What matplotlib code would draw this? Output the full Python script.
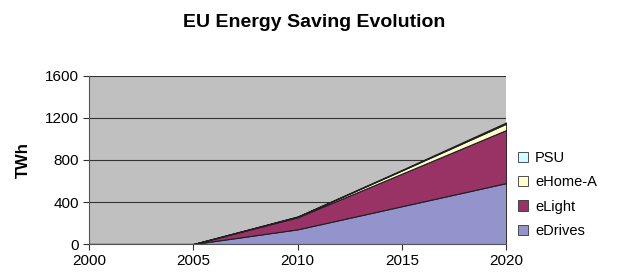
import matplotlib.pyplot as plt
import numpy as np

plt.rcParams['font.family'] = ['Liberation Sans', 'DejaVu Sans']

# Data (TWh)
years = [2000, 2005, 2010, 2015, 2020]
edrives = [0, 0, 140, 360, 580]
elight = [0, 0, 115, 310, 505]
ehome = [0, 0, 5, 30, 60]
psu = [0, 0, 3, 6, 12]

labels = ['eDrives', 'eLight', 'eHome-A', 'PSU']
colors = ['#9494cc', '#993366', '#ffffcc', '#ccffff']

fig = plt.figure(figsize=(6.28, 2.77), dpi=100)
ax = fig.add_axes([0.142, 0.119, 0.664, 0.607])

ax.set_facecolor('#c0c0c0')
polys = ax.stackplot(years, edrives, elight, ehome, psu,
                     colors=colors, labels=labels,
                     edgecolor='#202020', linewidth=0.8)

ax.set_xlim(2000, 2020)
ax.set_ylim(0, 1600)
ax.set_xticks([2000, 2005, 2010, 2015, 2020])
ax.set_yticks([0, 400, 800, 1200, 1600])
ax.yaxis.grid(True, color='#333333', linewidth=0.8)
ax.set_axisbelow(True)
ax.tick_params(labelsize=11, direction='out', length=4, color='#333333')

for s in ['top', 'right']:
    ax.spines[s].set_visible(False)
ax.spines['left'].set_color('#555555')
ax.spines['bottom'].set_color('#555555')

ax.set_ylabel('TWh', fontsize=12, fontweight='bold', labelpad=10)
fig.suptitle('EU Energy Saving Evolution', fontsize=14, fontweight='bold',
             x=0.5, y=0.95)

handles, labs = ax.get_legend_handles_labels()
leg = fig.legend(handles[::-1], labs[::-1], loc='upper left',
                 bbox_to_anchor=(0.815, 0.475), bbox_transform=fig.transFigure,
                 frameon=False, fontsize=10.5, handlelength=0.7, handleheight=0.7,
                 handletextpad=0.5, labelspacing=0.7, borderaxespad=0)
for h in leg.legend_handles:
    h.set_edgecolor('#333333')
    h.set_linewidth(0.6)

fig.savefig('out.png', dpi=100)
